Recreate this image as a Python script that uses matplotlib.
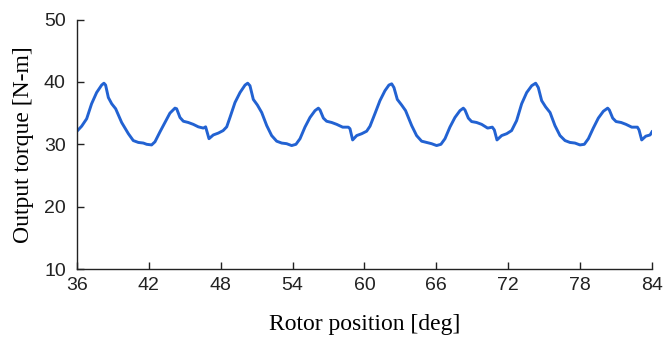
import matplotlib
matplotlib.use("Agg")
import matplotlib.pyplot as plt

# rotor position [deg] and output torque [N-m]
position = [
    36.00, 36.39, 36.81, 37.22, 37.64, 38.06, 38.25, 38.39, 38.62, 38.90,
    39.23, 39.73, 40.29, 40.70, 41.12, 41.54, 41.82, 42.23, 42.51, 42.93,
    43.35, 43.76, 44.18, 44.32, 44.60, 44.88, 45.29, 45.71, 46.13, 46.55,
    46.74, 47.02, 47.38, 47.80, 48.20,
    48.50, 48.77, 49.19, 49.61, 50.03, 50.25, 50.44, 50.72, 51.06, 51.42,
    51.84, 52.25, 52.67, 53.09, 53.50, 53.92, 54.28, 54.62, 55.03, 55.45,
    55.87, 56.15, 56.29, 56.57, 56.84, 57.26, 57.68, 58.18, 58.65, 58.79,
    59.01, 59.35, 59.77, 60.18,
    60.46, 60.87, 61.29, 61.71, 62.04, 62.27, 62.46, 62.74, 63.10, 63.43,
    63.94, 64.35, 64.77, 65.19, 65.60, 66.02, 66.38, 66.72, 67.13, 67.55,
    67.97, 68.25, 68.39, 68.67, 68.94, 69.36, 69.78, 70.28, 70.67, 70.84,
    71.06, 71.45, 71.87, 72.28,
    72.70, 73.12, 73.54, 73.96, 74.29, 74.51, 74.79, 75.12, 75.49, 75.90,
    76.32, 76.74, 77.15, 77.57, 77.99, 78.35, 78.69, 79.10, 79.52, 79.94,
    80.30, 80.44, 80.72, 81.00, 81.42, 81.83, 82.31, 82.78, 82.92, 83.14,
    83.48, 83.84, 84.00,
]
torque = [
    32.1, 32.9, 34.1, 36.5, 38.3, 39.5, 39.8, 39.5, 37.5, 36.5,
    35.7, 33.5, 31.7, 30.6, 30.3, 30.2, 30.0, 29.9, 30.4, 32.0,
    33.5, 35.0, 35.8, 35.7, 34.3, 33.7, 33.5, 33.2, 32.8, 32.6,
    32.8, 30.9, 31.5, 31.8, 32.2,
    32.8, 34.3, 36.7, 38.3, 39.5, 39.8, 39.4, 37.2, 36.3, 35.1,
    33.0, 31.4, 30.5, 30.2, 30.1, 29.8, 30.0, 30.9, 32.75, 34.3,
    35.4, 35.8, 35.5, 34.2, 33.7, 33.5, 33.2, 32.75, 32.75, 32.5,
    30.7, 31.4, 31.7, 32.1,
    32.9, 34.9, 37.0, 38.6, 39.5, 39.7, 39.1, 37.2, 36.3, 35.4,
    33.0, 31.4, 30.5, 30.3, 30.1, 29.8, 30.0, 30.9, 32.75, 34.3,
    35.4, 35.8, 35.5, 34.2, 33.65, 33.5, 33.2, 32.6, 32.75, 32.3,
    30.7, 31.4, 31.7, 32.2,
    33.8, 36.5, 38.3, 39.4, 39.8, 39.1, 37.0, 36.0, 35.1, 33.0,
    31.4, 30.6, 30.3, 30.2, 29.9, 30.0, 30.9, 32.6, 34.2, 35.3,
    35.8, 35.5, 34.2, 33.65, 33.5, 33.2, 32.75, 32.75, 32.3, 30.7,
    31.3, 31.5, 32.0,
]
x_ticks = [36, 42, 48, 54, 60, 66, 72, 78, 84]
y_ticks = [10, 20, 30, 40, 50]

fig = plt.figure(figsize=(6.67, 3.5), dpi=100)
ax = fig.add_axes([0.1154, 0.2314, 0.8621, 0.7126])

ax.plot(position, torque, color="#2262d2", linewidth=2.1, solid_joinstyle="round")

ax.set_xlim(36, 84)
ax.set_ylim(10, 50)
ax.set_xticks(x_ticks)
ax.set_yticks(y_ticks)

for side in ("top", "right"):
    ax.spines[side].set_visible(False)
for side in ("left", "bottom"):
    ax.spines[side].set_linewidth(1.0)
    ax.spines[side].set_color("#222222")

ax.tick_params(direction="in", length=5, width=1.0, color="#222222",
               labelsize=14)
ax.tick_params(axis="x", pad=6)
ax.tick_params(axis="y", pad=8)
for lab in ax.get_xticklabels() + ax.get_yticklabels():
    lab.set_fontfamily("Liberation Sans")
    lab.set_color("#222222")

ax.set_xlabel("Rotor position [deg]", fontfamily="Liberation Serif",
              fontsize=17, labelpad=14)
ax.set_ylabel("Output torque [N-m]", fontfamily="Liberation Serif",
              fontsize=17, labelpad=7)

fig.savefig("out.png", dpi=100)
